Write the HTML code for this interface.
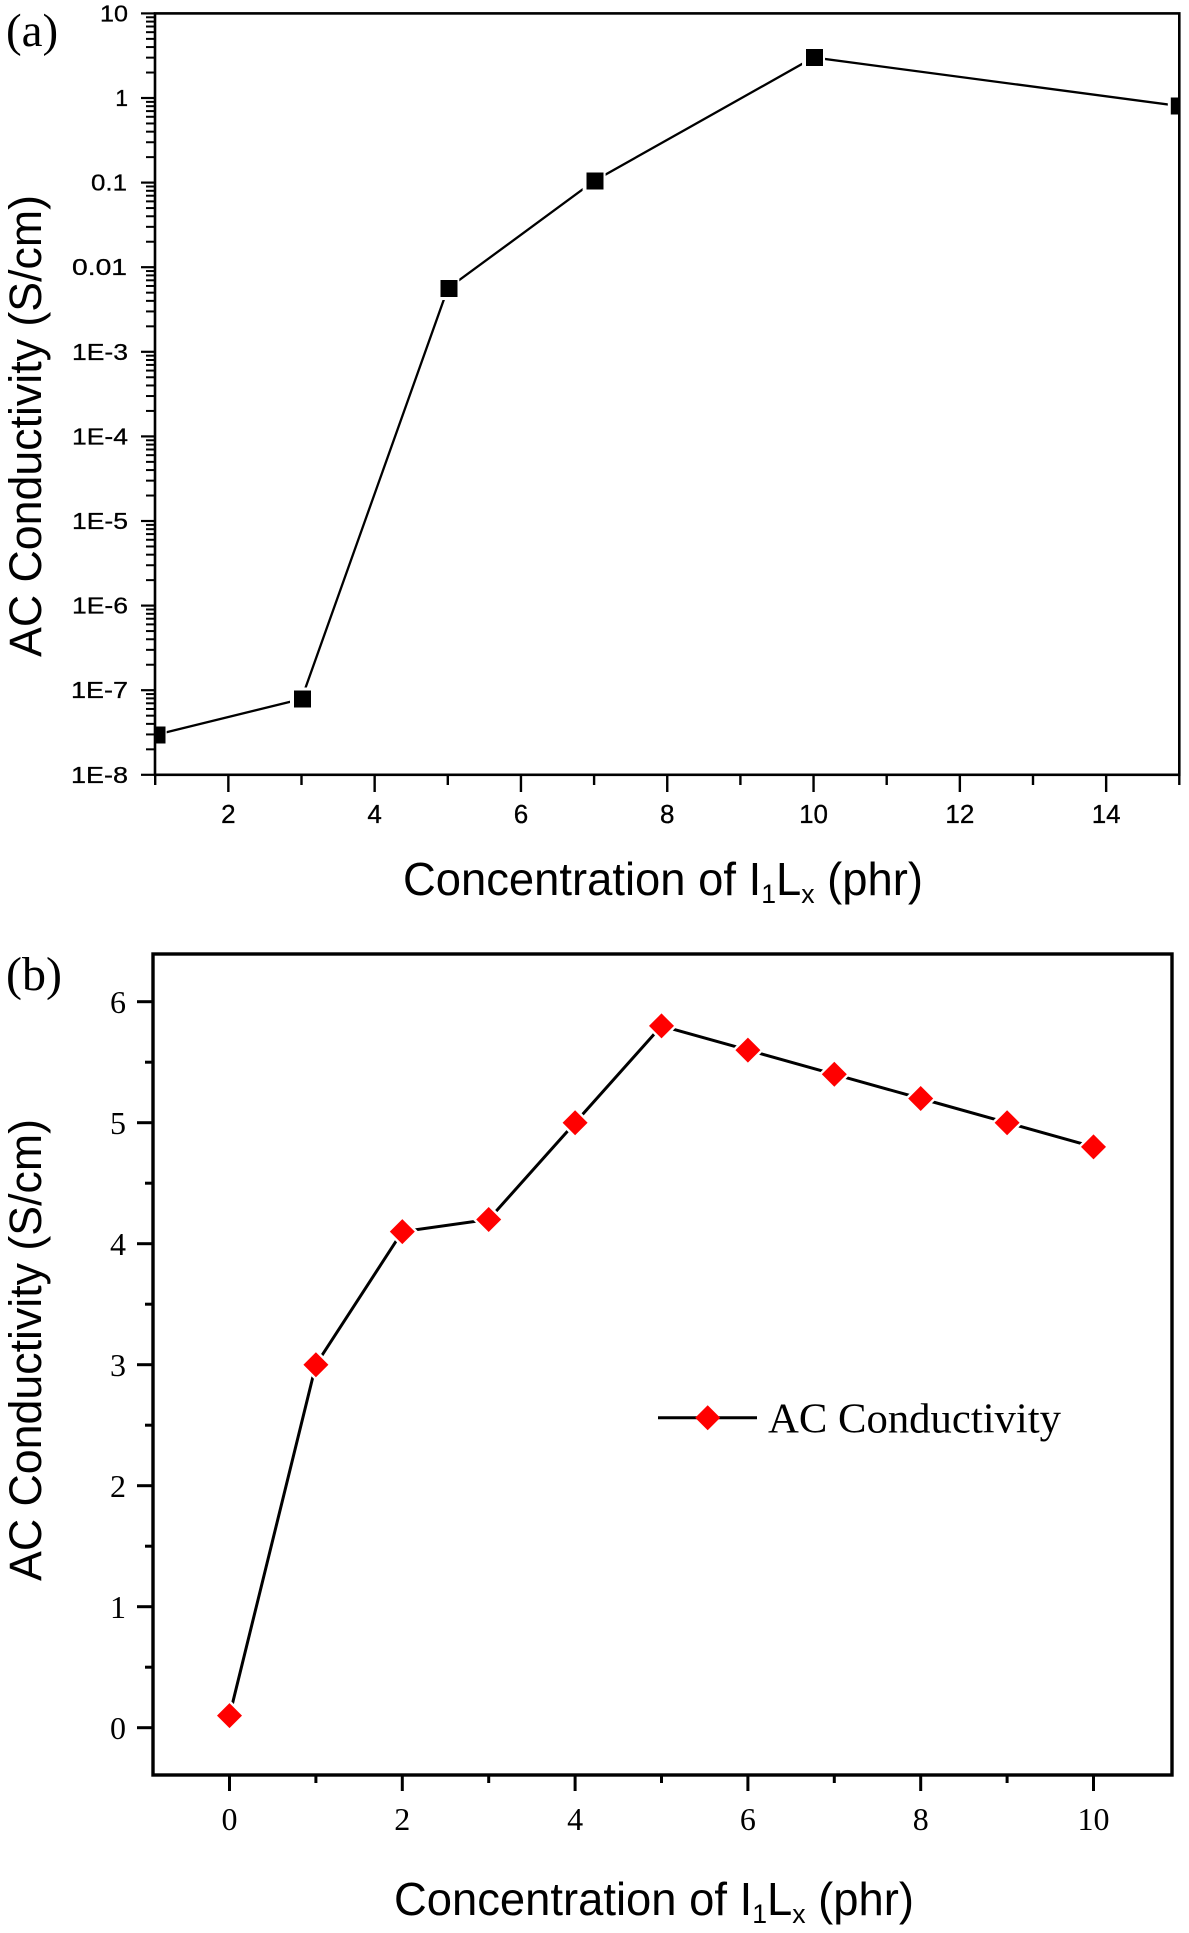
<!DOCTYPE html>
<html>
<head>
<meta charset="utf-8">
<style>
  html,body{margin:0;padding:0;background:#fff;}
  svg{display:block;}
</style>
</head>
<body>
<svg xmlns="http://www.w3.org/2000/svg" width="1189" height="1933" viewBox="0 0 1189 1933">
  <defs>
    <g id="decm" stroke="#000" stroke-width="2">
      <line x1="146" x2="155" y1="-25.47" y2="-25.47"/>
      <line x1="146" x2="155" y1="-40.36" y2="-40.36"/>
      <line x1="146" x2="155" y1="-50.93" y2="-50.93"/>
      <line x1="146" x2="155" y1="-59.13" y2="-59.13"/>
      <line x1="146" x2="155" y1="-65.83" y2="-65.83"/>
      <line x1="146" x2="155" y1="-71.49" y2="-71.49"/>
      <line x1="146" x2="155" y1="-76.40" y2="-76.40"/>
      <line x1="146" x2="155" y1="-80.73" y2="-80.73"/>
    </g>
    <clipPath id="clipA"><rect x="155" y="13" width="1024" height="762"/></clipPath>
    <g id="sqw"><rect x="-11.5" y="-11.5" width="23" height="23" fill="#fff"/></g>
    <g id="sq"><rect x="-8.5" y="-8.5" width="17" height="17" fill="#000"/></g>
    <g id="dmw"><path d="M0,-16 L16,0 L0,16 L-16,0 Z" fill="#fff"/></g>
    <g id="dm"><path d="M0,-12.5 L12.5,0 L0,12.5 L-12.5,0 Z" fill="#ff0000"/></g>
  </defs>

  <rect width="1189" height="1933" fill="#fff"/>

  <!-- ================= PANEL (a) ================= -->
  <text x="6" y="46" font-family="Liberation Serif, serif" font-size="47">(a)</text>

  <!-- data -->
  <g clip-path="url(#clipA)">
    <polyline points="155.2,735 301.5,699 447.8,288.5 594.1,181 813.55,57.5 1179.3,106" fill="none" stroke="#000" stroke-width="2.3"/>
    <use href="#sqw" x="155.2" y="735"/>
    <use href="#sqw" x="301.5" y="699"/>
    <use href="#sqw" x="447.8" y="288.5"/>
    <use href="#sqw" x="594.1" y="181"/>
    <use href="#sqw" x="813.55" y="57.5"/>
    <use href="#sqw" x="1179.3" y="106"/>
    <use href="#sq" x="157" y="735"/>
    <use href="#sq" x="302.5" y="699"/>
    <use href="#sq" x="449" y="288.5"/>
    <use href="#sq" x="595" y="181"/>
    <use href="#sq" x="814.5" y="57.5"/>
    <use href="#sq" x="1179.3" y="106"/>
  </g>

  <!-- frame -->
  <rect x="155" y="13.4" width="1024.3" height="761.4" fill="none" stroke="#000" stroke-width="2.6"/>

  <!-- y major ticks -->
  <g stroke="#000" stroke-width="2.2">
    <line x1="141" x2="155" y1="13.4" y2="13.4"/>
    <line x1="141" x2="155" y1="98" y2="98"/>
    <line x1="141" x2="155" y1="182.6" y2="182.6"/>
    <line x1="141" x2="155" y1="267.2" y2="267.2"/>
    <line x1="141" x2="155" y1="351.8" y2="351.8"/>
    <line x1="141" x2="155" y1="436.4" y2="436.4"/>
    <line x1="141" x2="155" y1="521" y2="521"/>
    <line x1="141" x2="155" y1="605.6" y2="605.6"/>
    <line x1="141" x2="155" y1="690.2" y2="690.2"/>
    <line x1="141" x2="155" y1="774.8" y2="774.8"/>
  </g>
  <!-- y minor ticks -->
  <use href="#decm" y="98"/>
  <use href="#decm" y="182.6"/>
  <use href="#decm" y="267.2"/>
  <use href="#decm" y="351.8"/>
  <use href="#decm" y="436.4"/>
  <use href="#decm" y="521"/>
  <use href="#decm" y="605.6"/>
  <use href="#decm" y="690.2"/>
  <use href="#decm" y="774.8"/>

  <!-- y tick labels -->
  <g font-family="Liberation Sans, Arial, sans-serif" font-size="23" text-anchor="end" fill="#000" stroke="#000" stroke-width="0.3">
    <text x="128" y="21.4" textLength="28" lengthAdjust="spacingAndGlyphs">10</text>
    <text x="128" y="106">1</text>
    <text x="127" y="190.6" textLength="36" lengthAdjust="spacingAndGlyphs">0.1</text>
    <text x="127" y="275.2" textLength="55" lengthAdjust="spacingAndGlyphs">0.01</text>
    <text x="128" y="359.8" textLength="56" lengthAdjust="spacingAndGlyphs">1E-3</text>
    <text x="128" y="444.4" textLength="56" lengthAdjust="spacingAndGlyphs">1E-4</text>
    <text x="128" y="529" textLength="56" lengthAdjust="spacingAndGlyphs">1E-5</text>
    <text x="128" y="613.6" textLength="56" lengthAdjust="spacingAndGlyphs">1E-6</text>
    <text x="128" y="698.2" textLength="57" lengthAdjust="spacingAndGlyphs">1E-7</text>
    <text x="128" y="782.8" textLength="57" lengthAdjust="spacingAndGlyphs">1E-8</text>
  </g>

  <!-- x ticks -->
  <g stroke="#000" stroke-width="2.4">
    <line x1="155.2" x2="155.2" y1="774.8" y2="785"/>
    <line x1="228.35" x2="228.35" y1="774.8" y2="792"/>
    <line x1="301.5" x2="301.5" y1="774.8" y2="785"/>
    <line x1="374.65" x2="374.65" y1="774.8" y2="792"/>
    <line x1="447.8" x2="447.8" y1="774.8" y2="785"/>
    <line x1="520.95" x2="520.95" y1="774.8" y2="792"/>
    <line x1="594.1" x2="594.1" y1="774.8" y2="785"/>
    <line x1="667.25" x2="667.25" y1="774.8" y2="792"/>
    <line x1="740.4" x2="740.4" y1="774.8" y2="785"/>
    <line x1="813.55" x2="813.55" y1="774.8" y2="792"/>
    <line x1="886.7" x2="886.7" y1="774.8" y2="785"/>
    <line x1="959.85" x2="959.85" y1="774.8" y2="792"/>
    <line x1="1033" x2="1033" y1="774.8" y2="785"/>
    <line x1="1106.15" x2="1106.15" y1="774.8" y2="792"/>
    <line x1="1179.3" x2="1179.3" y1="774.8" y2="785"/>
  </g>
  <g font-family="Liberation Sans, Arial, sans-serif" font-size="26" text-anchor="middle" fill="#000" stroke="#000" stroke-width="0.3">
    <text x="228.35" y="823">2</text>
    <text x="374.65" y="823">4</text>
    <text x="520.95" y="823">6</text>
    <text x="667.25" y="823">8</text>
    <text x="813.55" y="823">10</text>
    <text x="959.85" y="823">12</text>
    <text x="1106.15" y="823">14</text>
  </g>

  <!-- axis titles (a) -->
  <text x="403" y="895" font-family="Liberation Sans, Arial, sans-serif" font-size="46" textLength="520" lengthAdjust="spacingAndGlyphs">Concentration of I<tspan font-size="27" dy="8">1</tspan><tspan dy="-8">L</tspan><tspan font-size="27" dy="8">x</tspan><tspan dy="-8"> (phr)</tspan></text>
  <text transform="translate(41,426) rotate(-90)" text-anchor="middle" font-family="Liberation Sans, Arial, sans-serif" font-size="45" textLength="462" lengthAdjust="spacingAndGlyphs">AC Conductivity (S/cm)</text>

  <!-- ================= PANEL (b) ================= -->
  <text x="6" y="990" font-family="Liberation Serif, serif" font-size="48">(b)</text>

  <!-- frame -->
  <rect x="153" y="954" width="1019" height="821" fill="none" stroke="#000" stroke-width="3.4"/>

  <!-- y ticks -->
  <g stroke="#000" stroke-width="3">
    <line x1="137" x2="153" y1="1727.7" y2="1727.7"/>
    <line x1="137" x2="153" y1="1606.7" y2="1606.7"/>
    <line x1="137" x2="153" y1="1485.7" y2="1485.7"/>
    <line x1="137" x2="153" y1="1364.7" y2="1364.7"/>
    <line x1="137" x2="153" y1="1243.7" y2="1243.7"/>
    <line x1="137" x2="153" y1="1122.7" y2="1122.7"/>
    <line x1="137" x2="153" y1="1001.7" y2="1001.7"/>
    <line x1="145" x2="153" y1="1667.2" y2="1667.2"/>
    <line x1="145" x2="153" y1="1546.2" y2="1546.2"/>
    <line x1="145" x2="153" y1="1425.2" y2="1425.2"/>
    <line x1="145" x2="153" y1="1304.2" y2="1304.2"/>
    <line x1="145" x2="153" y1="1183.2" y2="1183.2"/>
    <line x1="145" x2="153" y1="1062.2" y2="1062.2"/>
  </g>
  <g font-family="Liberation Serif, serif" font-size="32" text-anchor="end" fill="#000">
    <text x="126" y="1739">0</text>
    <text x="126" y="1618">1</text>
    <text x="126" y="1497">2</text>
    <text x="126" y="1376">3</text>
    <text x="126" y="1255">4</text>
    <text x="126" y="1134">5</text>
    <text x="126" y="1013">6</text>
  </g>

  <!-- x ticks -->
  <g stroke="#000" stroke-width="3">
    <line x1="229.5" x2="229.5" y1="1775" y2="1791"/>
    <line x1="402.3" x2="402.3" y1="1775" y2="1791"/>
    <line x1="575.1" x2="575.1" y1="1775" y2="1791"/>
    <line x1="747.9" x2="747.9" y1="1775" y2="1791"/>
    <line x1="920.7" x2="920.7" y1="1775" y2="1791"/>
    <line x1="1093.5" x2="1093.5" y1="1775" y2="1791"/>
    <line x1="315.9" x2="315.9" y1="1775" y2="1783"/>
    <line x1="488.7" x2="488.7" y1="1775" y2="1783"/>
    <line x1="661.5" x2="661.5" y1="1775" y2="1783"/>
    <line x1="834.3" x2="834.3" y1="1775" y2="1783"/>
    <line x1="1007.1" x2="1007.1" y1="1775" y2="1783"/>
  </g>
  <g font-family="Liberation Serif, serif" font-size="32" text-anchor="middle" fill="#000">
    <text x="229.5" y="1830">0</text>
    <text x="402.3" y="1830">2</text>
    <text x="575.1" y="1830">4</text>
    <text x="747.9" y="1830">6</text>
    <text x="920.7" y="1830">8</text>
    <text x="1093.5" y="1830">10</text>
  </g>

  <!-- data (b) -->
  <polyline points="229.5,1715.6 315.9,1364.7 402.3,1231.6 488.7,1219.5 575.1,1122.7 661.5,1025.9 747.9,1050.1 834.3,1074.3 920.7,1098.5 1007.1,1122.7 1093.5,1146.9" fill="none" stroke="#000" stroke-width="3"/>
  <use href="#dmw" x="229.5" y="1715.6"/>
  <use href="#dmw" x="315.9" y="1364.7"/>
  <use href="#dmw" x="402.3" y="1231.6"/>
  <use href="#dmw" x="488.7" y="1219.5"/>
  <use href="#dmw" x="575.1" y="1122.7"/>
  <use href="#dmw" x="661.5" y="1025.9"/>
  <use href="#dmw" x="747.9" y="1050.1"/>
  <use href="#dmw" x="834.3" y="1074.3"/>
  <use href="#dmw" x="920.7" y="1098.5"/>
  <use href="#dmw" x="1007.1" y="1122.7"/>
  <use href="#dmw" x="1093.5" y="1146.9"/>
  <use href="#dm" x="229.5" y="1715.6"/>
  <use href="#dm" x="315.9" y="1364.7"/>
  <use href="#dm" x="402.3" y="1231.6"/>
  <use href="#dm" x="488.7" y="1219.5"/>
  <use href="#dm" x="575.1" y="1122.7"/>
  <use href="#dm" x="661.5" y="1025.9"/>
  <use href="#dm" x="747.9" y="1050.1"/>
  <use href="#dm" x="834.3" y="1074.3"/>
  <use href="#dm" x="920.7" y="1098.5"/>
  <use href="#dm" x="1007.1" y="1122.7"/>
  <use href="#dm" x="1093.5" y="1146.9"/>

  <!-- legend -->
  <line x1="658" x2="757" y1="1417.7" y2="1417.7" stroke="#000" stroke-width="3"/>
  <use href="#dm" x="707.7" y="1417.7"/>
  <text x="768" y="1432.7" font-family="Liberation Serif, serif" font-size="42" textLength="293" lengthAdjust="spacingAndGlyphs">AC Conductivity</text>

  <!-- axis titles (b) -->
  <text x="394" y="1915" font-family="Liberation Sans, Arial, sans-serif" font-size="46" textLength="520" lengthAdjust="spacingAndGlyphs">Concentration of I<tspan font-size="27" dy="8">1</tspan><tspan dy="-8">L</tspan><tspan font-size="27" dy="8">x</tspan><tspan dy="-8"> (phr)</tspan></text>
  <text transform="translate(41,1350) rotate(-90)" text-anchor="middle" font-family="Liberation Sans, Arial, sans-serif" font-size="45" textLength="462" lengthAdjust="spacingAndGlyphs">AC Conductivity (S/cm)</text>
</svg>
</body>
</html>
